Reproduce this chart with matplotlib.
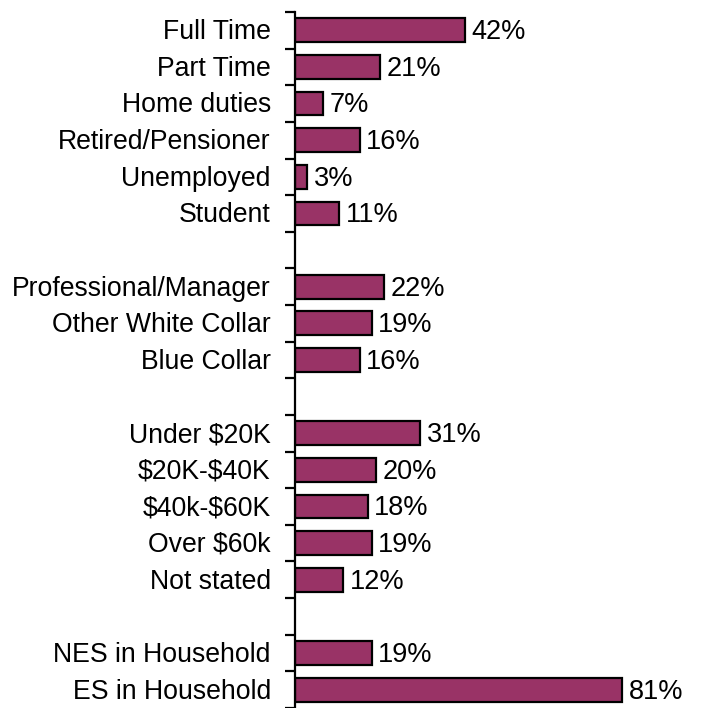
import matplotlib

matplotlib.use("Agg")
import matplotlib.pyplot as plt

# None marks an empty gap row between groups
categories = [
    "Full Time", "Part Time", "Home duties", "Retired/Pensioner", "Unemployed", "Student",
    None,
    "Professional/Manager", "Other White Collar", "Blue Collar",
    None,
    "Under $20K", "$20K-$40K", "$40k-$60K", "Over $60k", "Not stated",
    None,
    "NES in Household", "ES in Household",
]
values = [42, 21, 7, 16, 3, 11, None, 22, 19, 16, None, 31, 20, 18, 19, 12, None, 19, 81]

plt.rcParams["font.family"] = ["Liberation Sans", "DejaVu Sans"]
plt.rcParams["text.parse_math"] = False

fig = plt.figure(figsize=(7.01, 7.08), dpi=100)
ax = fig.add_axes([295 / 701, 0.0, 404 / 701, 696 / 708])

rows = [i for i, v in enumerate(values) if v is not None]
vals = [values[i] for i in rows]
ax.barh(rows, vals, height=0.65, color="#993366", edgecolor="black", linewidth=1.6)

for y, v in zip(rows, vals):
    ax.text(v + 1.6, y + 0.05, f"{v}%", va="center", ha="left", fontsize=19.5)
for y in rows:
    ax.text(-6.0, y + 0.05, categories[y], va="center", ha="right", fontsize=19.2)

ax.set_xlim(0, 100)
ax.set_ylim(len(categories) - 0.5, -0.5)
ax.set_yticks([i - 0.5 for i in range(len(categories) + 1)])
ax.set_yticklabels([])
ax.set_xticks([])
ax.tick_params(axis="y", direction="out", length=7, width=1.6)
for side in ["top", "right", "bottom"]:
    ax.spines[side].set_visible(False)
ax.spines["left"].set_linewidth(1.6)

fig.savefig("out.png", dpi=100)
